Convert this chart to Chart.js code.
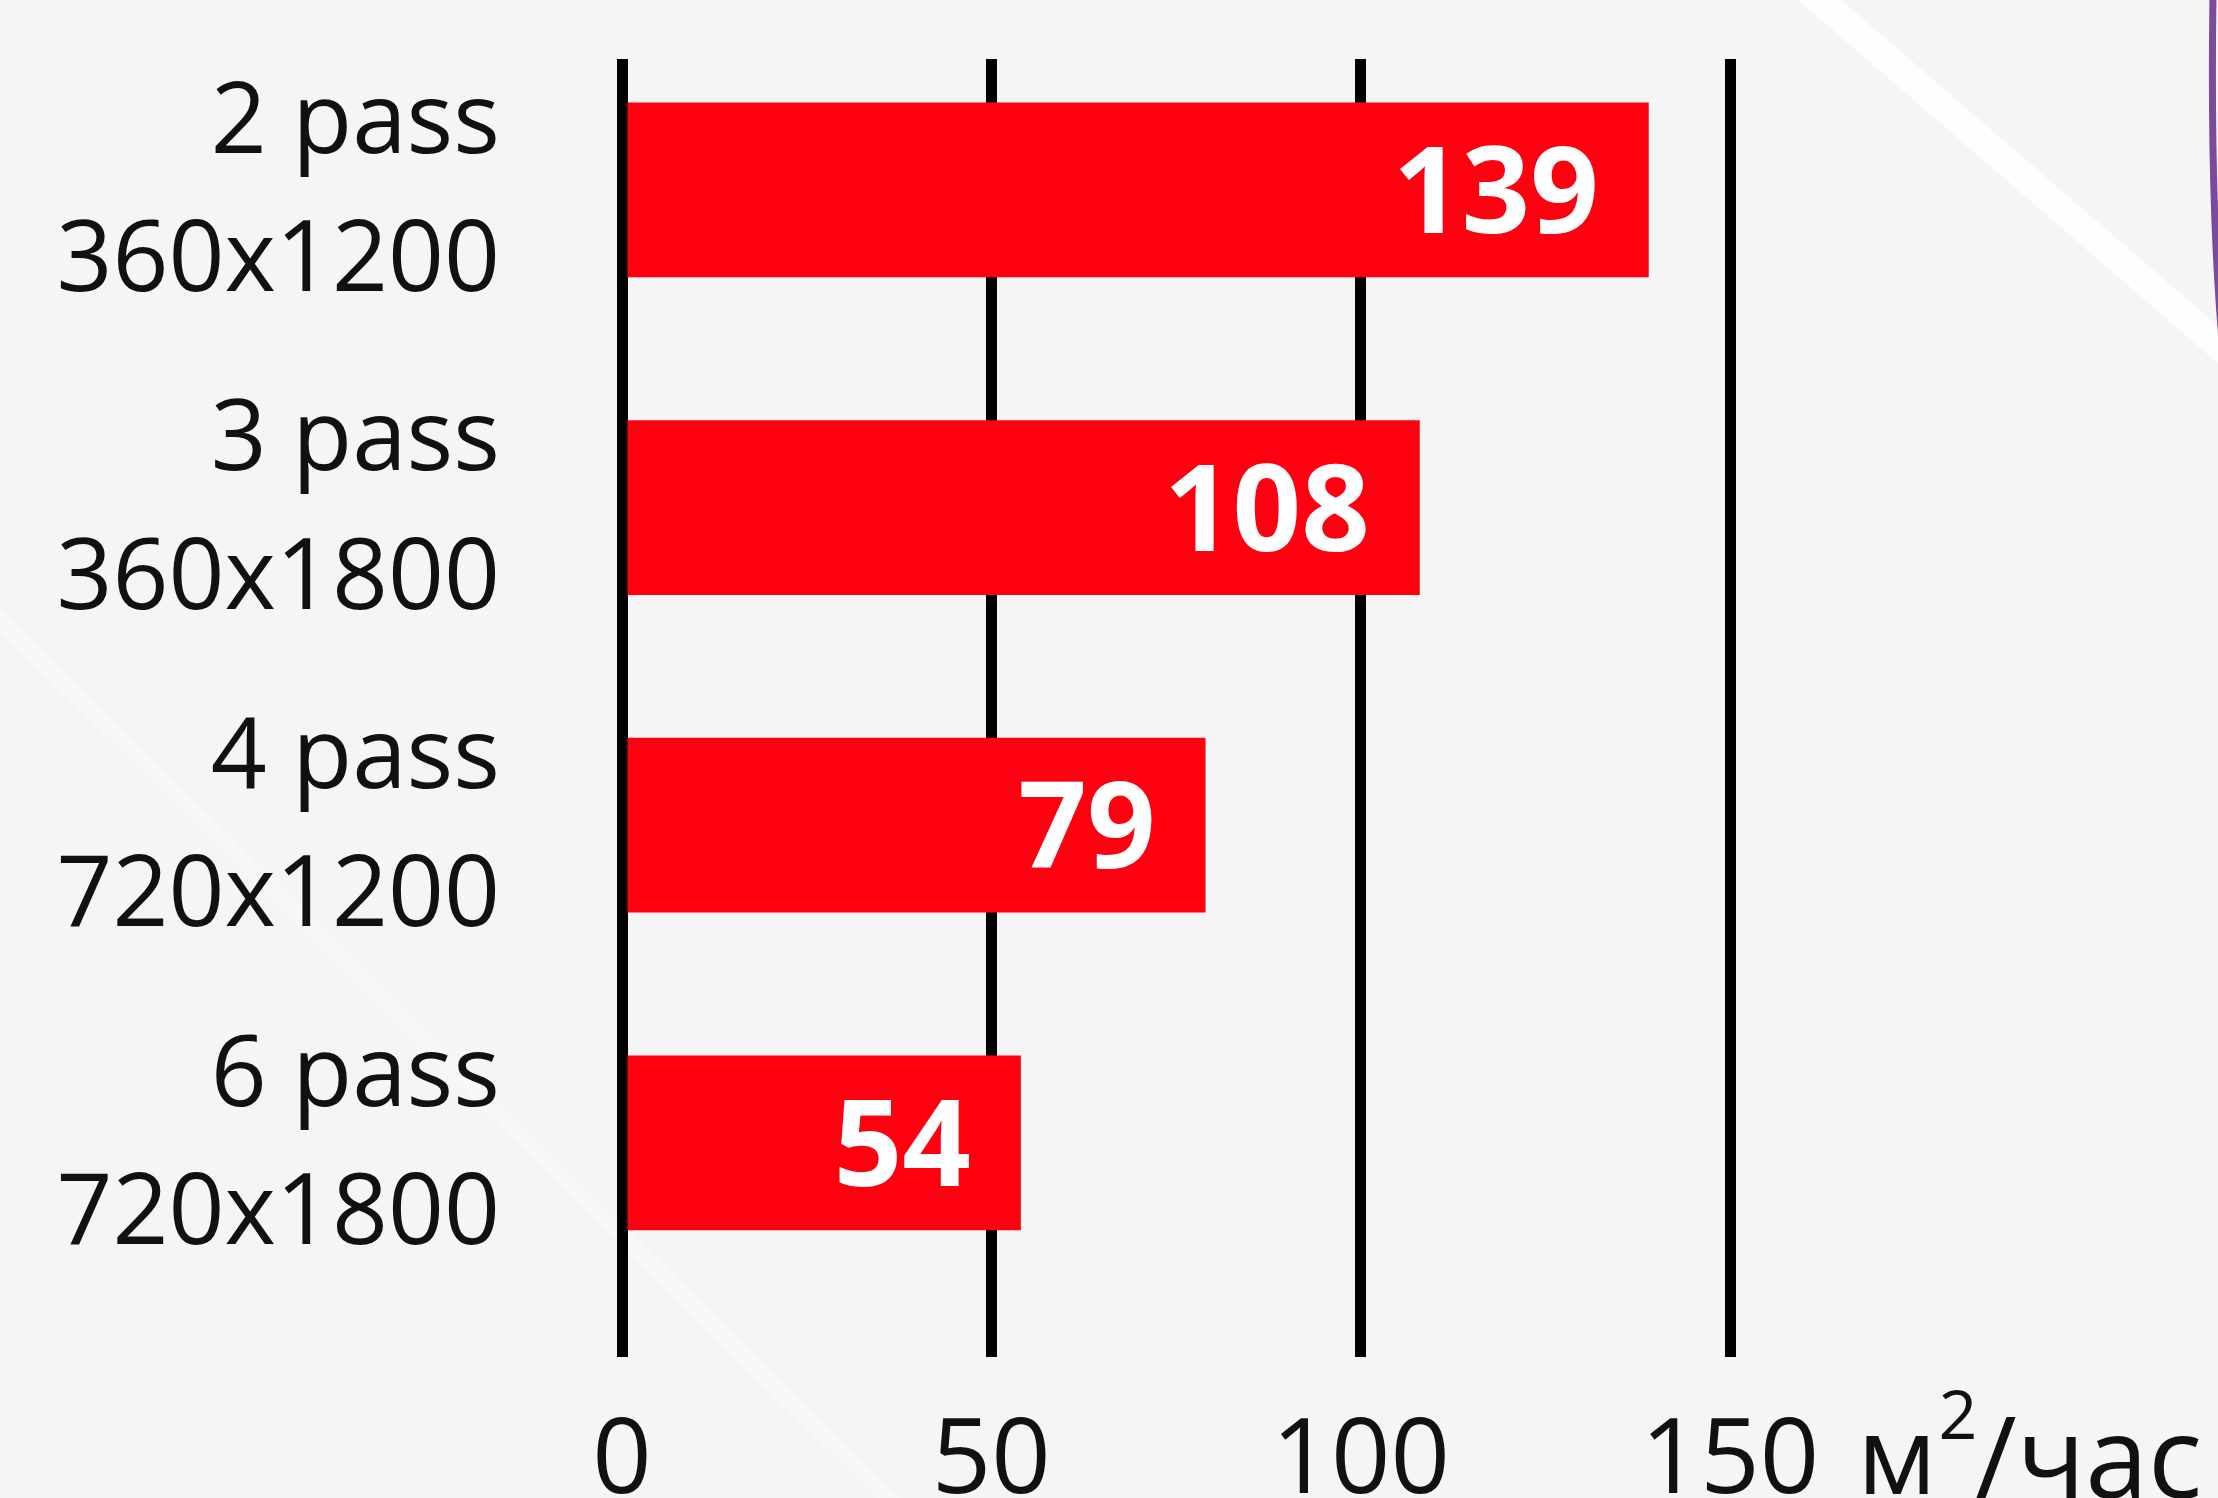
<!DOCTYPE html>
<html>
<head>
<meta charset="utf-8">
<script src="https://cdn.jsdelivr.net/npm/chart.js@4/dist/chart.umd.min.js"></script>
<style>
  html, body { margin: 0; padding: 0; background: #f5f5f5; }
  #wrap { width: 2218px; height: 1498px; position: relative; }
</style>
</head>
<body>
<div id="wrap"><canvas id="c" width="2218" height="1498"></canvas></div>
<script>
// ---- data ----
const categories = [
  ["2 pass", "360x1200"],
  ["3 pass", "360x1800"],
  ["4 pass", "720x1200"],
  ["6 pass", "720x1800"]
];
const values = [139, 108, 79, 54];
const xTickValues = [0, 50, 100, 150];
const unitMain = "м";
const unitSup = "2";
const unitTail = "/час";

// ---- plugins ----
const background = {
  id: 'background',
  beforeDraw(chart) {
    const ctx = chart.ctx;
    ctx.save();
    ctx.fillStyle = '#f5f5f5';
    ctx.fillRect(0, 0, chart.width, chart.height);
    // soft decorative light stripes
    ctx.strokeStyle = 'rgba(255,255,255,0.9)';
    ctx.lineWidth = 28;
    ctx.beginPath();
    ctx.moveTo(1808, -10);
    ctx.lineTo(2230, 355);
    ctx.stroke();
    ctx.strokeStyle = 'rgba(255,255,255,0.3)';
    ctx.lineWidth = 16;
    ctx.beginPath();
    ctx.moveTo(-10, 610);
    ctx.lineTo(900, 1510);
    ctx.stroke();
    // purple edge curve at top right
    ctx.strokeStyle = '#7a4a9e';
    ctx.lineWidth = 7;
    ctx.beginPath();
    ctx.moveTo(2213, -5);
    ctx.quadraticCurveTo(2210, 200, 2222, 340);
    ctx.stroke();
    ctx.restore();
  }
};

const valueLabels = {
  id: 'valueLabels',
  afterDatasetsDraw(chart) {
    const ctx = chart.ctx;
    const meta = chart.getDatasetMeta(0);
    ctx.save();
    ctx.fillStyle = '#ffffff';
    ctx.font = 'bold 120px "Open Sans"';
    ctx.textAlign = 'right';
    ctx.textBaseline = 'middle';
    meta.data.forEach((bar, i) => {
      ctx.fillText(String(values[i]), bar.x - 50, bar.y + 9);
    });
    ctx.restore();
  }
};

const tickSize = 104;
const tickPad = 44;

const unitLabel = {
  id: 'unitLabel',
  afterDraw(chart) {
    const ctx = chart.ctx;
    const xs = chart.scales.x;
    const lastVal = xTickValues[xTickValues.length - 1];
    ctx.save();
    ctx.fillStyle = '#111111';
    ctx.font = tickSize + 'px "Open Sans"';
    ctx.textBaseline = 'middle';
    ctx.textAlign = 'left';
    const w = ctx.measureText(String(lastVal)).width;
    const y = xs.top + tickPad + tickSize * 1.2 / 2;
    let x = xs.getPixelForValue(lastVal) + w / 2 + 38;
    ctx.font = '108px "Open Sans"';
    ctx.fillText(unitMain, x, y);
    x += ctx.measureText(unitMain).width + 2;
    ctx.font = '68px "Open Sans"';
    ctx.fillText(unitSup, x, y - 44);
    x += ctx.measureText(unitSup).width - 2;
    ctx.font = '113px "Open Sans"';
    ctx.fillText(unitTail, x, y + 2);
    ctx.restore();
  }
};

new Chart(document.getElementById('c'), {
  type: 'bar',
  data: {
    datasets: [{
      data: values.map((v, i) => ({ x: v, y: i })),
      backgroundColor: '#fe000f',
      borderWidth: 0,
      categoryPercentage: 1,
      barPercentage: 0.55
    }]
  },
  options: {
    indexAxis: 'y',
    responsive: false,
    animation: false,
    layout: { padding: { top: 59, right: 488, left: 0, bottom: 0 } },
    plugins: { legend: { display: false }, tooltip: { enabled: false } },
    scales: {
      x: {
        type: 'linear',
        position: 'bottom',
        min: 0,
        max: 150,
        afterBuildTicks(s) { s.ticks = xTickValues.map(v => ({ value: v })); },
        afterFit(s) {
          s.height = 141;
          s.paddingLeft = 0; s.paddingRight = 0; s.paddingTop = 0; s.paddingBottom = 0;
        },
        grid: { color: '#000000', lineWidth: 11, drawTicks: false },
        border: { display: false },
        ticks: {
          color: '#111111',
          font: { family: '"Open Sans"', size: tickSize },
          padding: tickPad,
          maxRotation: 0,
          autoSkip: false
        }
      },
      y: {
        type: 'linear',
        offset: false,
        reverse: true,
        min: -0.412,
        max: 3.674,
        afterBuildTicks(s) { s.ticks = categories.map((c, i) => ({ value: i })); },
        afterFit(s) {
          s.width = 622;
          s.paddingLeft = 0; s.paddingRight = 0; s.paddingTop = 0; s.paddingBottom = 0;
        },
        grid: { display: false, offset: false },
        border: { display: false },
        ticks: {
          color: '#111111',
          font: { family: '"Open Sans"', size: 98, lineHeight: 1.41 },
          padding: 114,
          labelOffset: 4,
          autoSkip: false,
          callback: (v) => categories[v]
        }
      }
    }
  },
  plugins: [background, valueLabels, unitLabel]
});
</script>
</body>
</html>
